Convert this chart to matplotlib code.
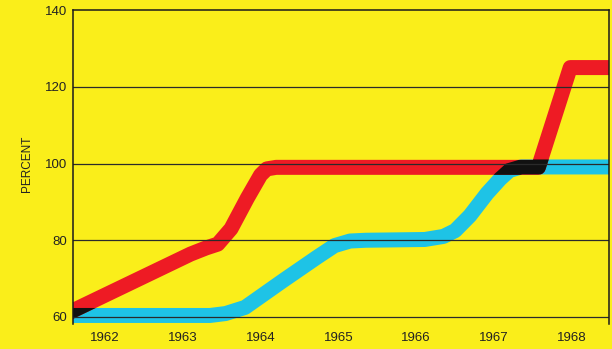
import numpy as np
import matplotlib as mpl
import matplotlib.pyplot as plt
from matplotlib.patches import Polygon

mpl.rcParams.update({"font.family": ["Liberation Sans", "DejaVu Sans"], "font.size": 9})

YELLOW, RED, CYAN, INK = "#FAEE1A", "#EE1B24", "#1EC3E6", "#222222"

# percent curves, read along the centre of each band
red_years = [1961.55, 1963.10, 1963.30, 1963.45, 1963.62, 1963.83, 1964.0, 1964.08, 1964.2,
             1967.57, 1967.98, 1968.55]
red_pct = [61.3, 76.4, 78.0, 79.0, 83.0, 91.0, 97.0, 98.6, 99.0,
           99.0, 125.0, 125.0]

cyan_years = [1961.55, 1963.35, 1963.55, 1963.80, 1964.29, 1964.72, 1964.95, 1965.15, 1965.35,
              1966.11, 1966.35, 1966.50, 1966.69, 1966.91, 1967.08, 1967.2, 1967.35, 1968.55]
cyan_pct = [60.4, 60.4, 60.9, 62.5, 69.5, 75.5, 78.6, 79.8, 80.0,
            80.2, 81.0, 82.5, 86.4, 92.2, 96.0, 98.2, 99.1, 99.1]

years = [1962, 1963, 1964, 1965, 1966, 1967, 1968]
pct_ticks = [60, 80, 100, 120, 140]

LW_PX = 15                     # band thickness in pixels
lw = LW_PX * 72 / 100

fig = plt.figure(figsize=(6.12, 3.49), dpi=100, facecolor=YELLOW)
ax = fig.add_axes([0.1193, 0.0719, 0.8758, 0.8994], facecolor=YELLOW)
ax.set_xlim(1961.589, 1968.478)
ax.set_ylim(58.2, 140)

line_kw = dict(lw=lw, solid_joinstyle="round", solid_capstyle="projecting")
ax.plot(cyan_years, cyan_pct, color=CYAN, zorder=2, **line_kw)
ax.plot(red_years, red_pct, color=RED, zorder=3, **line_kw)

# where the red band runs over the cyan band the inks mix to black:
# clip a black copy of the red line to the outline of the cyan band
pts = ax.transData.transform(np.column_stack([cyan_years, cyan_pct]))
d = np.diff(pts, axis=0)
d /= np.linalg.norm(d, axis=1)[:, None]
n = np.column_stack([-d[:, 1], d[:, 0]])
half = LW_PX / 2
offs = []
for i in range(len(pts)):
    if i == 0:
        m, s = n[0], half
    elif i == len(pts) - 1:
        m, s = n[-1], half
    else:
        m = n[i - 1] + n[i]
        m /= np.linalg.norm(m)
        s = half / np.dot(m, n[i])
    offs.append(m * s)
offs = np.array(offs)
outline = np.vstack([pts + offs, (pts - offs)[::-1]])
band = Polygon(ax.transData.inverted().transform(outline), closed=True,
               transform=ax.transData)
black, = ax.plot(red_years, red_pct, color="#111111", zorder=3.5, **line_kw)
black.set_clip_path(band)

for v in pct_ticks[:-1]:
    ax.axhline(v, color="#2a2a2a", lw=0.9, zorder=4)

for side in ["left", "top", "right"]:
    ax.spines[side].set_color("#1a1a1a")
    ax.spines[side].set_linewidth(1.1)
    ax.spines[side].set_zorder(5)
ax.spines["bottom"].set_visible(False)

ax.set_xticks(years)
ax.set_xticklabels([str(y) for y in years], color=INK, fontsize=9.5)
ax.set_yticks(pct_ticks)
ax.set_yticklabels([str(v) for v in pct_ticks], color=INK, fontsize=9.5)
ax.tick_params(axis="x", length=0, pad=6)
ax.tick_params(axis="y", length=0, pad=4)
ax.set_ylabel("PERCENT", fontsize=8.5, color=INK)
ax.yaxis.set_label_coords(-0.075, 0.51)

fig.savefig("out.png", dpi=100, facecolor=YELLOW)
